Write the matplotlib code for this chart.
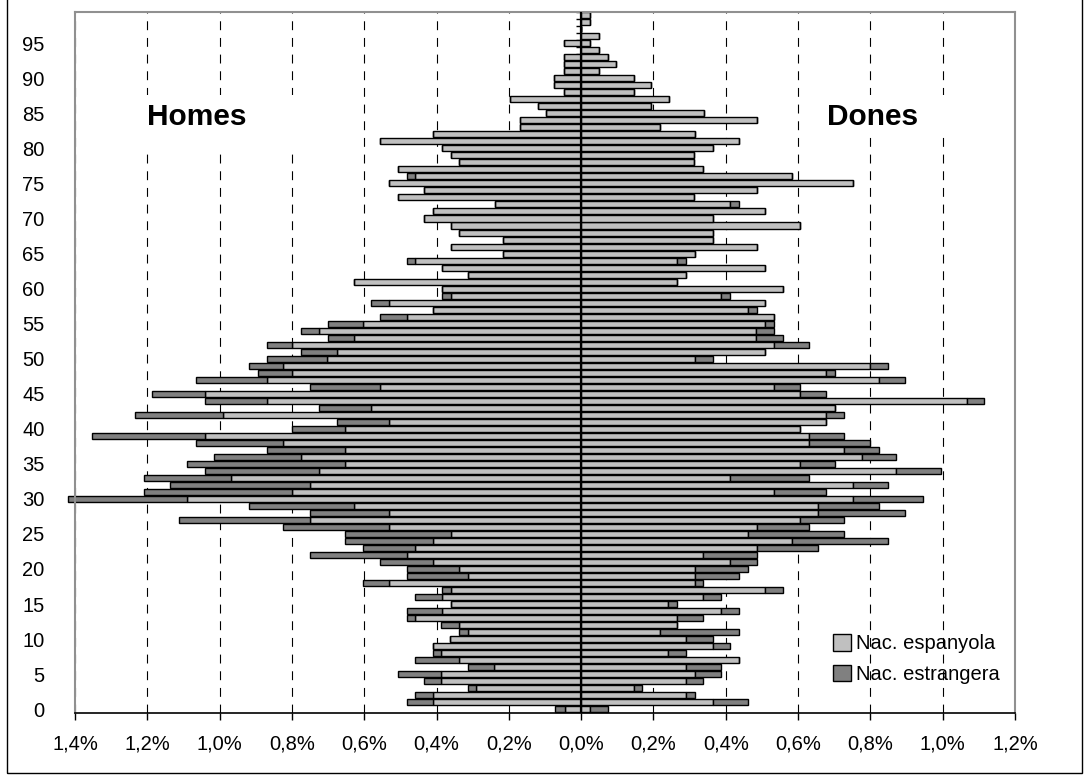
import numpy as np
import matplotlib.pyplot as plt
from matplotlib.patches import Rectangle

# edats 0..99
edats = list(range(100))

# % sobre el total de població (homes)
homes_esp = [0.046, 0.410, 0.410, 0.290, 0.387, 0.387, 0.240, 0.339, 0.387, 0.410,
             0.363, 0.313, 0.339, 0.459, 0.386, 0.361, 0.386, 0.361, 0.532, 0.312,
             0.338, 0.409, 0.482, 0.459, 0.409, 0.361, 0.532, 0.749, 0.532, 0.628,
             1.089, 0.799, 0.749, 0.968, 0.725, 0.652, 0.774, 0.652, 0.824, 1.040,
             0.652, 0.532, 0.992, 0.581, 0.870, 1.040, 0.556, 0.870, 0.799, 0.824,
             0.702, 0.676, 0.799, 0.628, 0.725, 0.604, 0.482, 0.409, 0.532, 0.361,
             0.386, 0.628, 0.312, 0.386, 0.459, 0.216, 0.361, 0.216, 0.338, 0.361,
             0.434, 0.409, 0.239, 0.506, 0.434, 0.532, 0.459, 0.506, 0.338, 0.361,
             0.386, 0.556, 0.409, 0.169, 0.169, 0.097, 0.120, 0.197, 0.048, 0.074,
             0.074, 0.048, 0.048, 0.048, 0.000, 0.048, 0.000, 0.000, 0.000, 0.000]
homes_estr = [0.026, 0.072, 0.049, 0.023, 0.047, 0.119, 0.073, 0.120, 0.023, 0.000,
              0.000, 0.026, 0.048, 0.023, 0.096, 0.000, 0.073, 0.025, 0.072, 0.170,
              0.144, 0.147, 0.267, 0.145, 0.243, 0.291, 0.292, 0.364, 0.217, 0.291,
              0.331, 0.411, 0.389, 0.242, 0.315, 0.437, 0.241, 0.218, 0.241, 0.314,
              0.147, 0.144, 0.243, 0.144, 0.170, 0.146, 0.193, 0.195, 0.095, 0.095,
              0.168, 0.098, 0.071, 0.072, 0.049, 0.096, 0.074, 0.000, 0.049, 0.025,
              0.000, 0.000, 0.000, 0.000, 0.023, 0.000, 0.000, 0.000, 0.000, 0.000,
              0.000, 0.000, 0.000, 0.000, 0.000, 0.000, 0.023, 0.000, 0.000, 0.000,
              0.000, 0.000, 0.000, 0.000, 0.000, 0.000, 0.000, 0.000, 0.000, 0.000,
              0.000, 0.000, 0.000, 0.000, 0.000, 0.000, 0.000, 0.000, 0.000, 0.000]

# dones
dones_esp = [0.025, 0.364, 0.290, 0.145, 0.290, 0.315, 0.290, 0.437, 0.241, 0.364,
             0.290, 0.218, 0.266, 0.266, 0.387, 0.241, 0.338, 0.509, 0.315, 0.315,
             0.315, 0.412, 0.338, 0.486, 0.582, 0.461, 0.486, 0.606, 0.654, 0.654,
             0.751, 0.534, 0.751, 0.412, 0.872, 0.606, 0.776, 0.726, 0.631, 0.631,
             0.606, 0.677, 0.677, 0.702, 1.066, 0.606, 0.534, 0.824, 0.677, 0.800,
             0.315, 0.509, 0.534, 0.484, 0.484, 0.509, 0.534, 0.461, 0.509, 0.387,
             0.558, 0.264, 0.290, 0.509, 0.264, 0.315, 0.486, 0.364, 0.364, 0.606,
             0.364, 0.509, 0.412, 0.313, 0.486, 0.751, 0.582, 0.338, 0.313, 0.313,
             0.364, 0.437, 0.315, 0.218, 0.486, 0.339, 0.194, 0.242, 0.145, 0.194,
             0.145, 0.048, 0.097, 0.073, 0.048, 0.025, 0.048, 0.000, 0.025, 0.025]
dones_estr = [0.048, 0.097, 0.025, 0.024, 0.048, 0.072, 0.097, 0.000, 0.049, 0.048,
              0.074, 0.219, 0.000, 0.072, 0.050, 0.025, 0.049, 0.049, 0.023, 0.122,
              0.146, 0.074, 0.148, 0.168, 0.266, 0.265, 0.145, 0.120, 0.242, 0.170,
              0.194, 0.143, 0.097, 0.219, 0.122, 0.096, 0.096, 0.098, 0.169, 0.095,
              0.000, 0.000, 0.049, 0.000, 0.049, 0.071, 0.072, 0.072, 0.025, 0.048,
              0.049, 0.000, 0.097, 0.074, 0.050, 0.025, 0.000, 0.025, 0.000, 0.025,
              0.000, 0.000, 0.000, 0.000, 0.026, 0.000, 0.000, 0.000, 0.000, 0.000,
              0.000, 0.000, 0.025, 0.000, 0.000, 0.000, 0.000, 0.000, 0.000, 0.000,
              0.000, 0.000, 0.000, 0.000, 0.000, 0.000, 0.000, 0.000, 0.000, 0.000,
              0.000, 0.000, 0.000, 0.000, 0.000, 0.000, 0.000, 0.000, 0.000, 0.000]

plt.rcParams['font.family'] = ['Liberation Sans', 'DejaVu Sans']

fig = plt.figure(figsize=(10.89, 7.81), dpi=100)
ax = fig.add_axes([75 / 1089, 1 - 712.7 / 781, 940 / 1089, 701 / 781])

clar = '#C0C0C0'
fosc = '#808080'
alt = 0.86

h_esp = -np.array(homes_esp)
h_estr = -np.array(homes_estr)

ax.barh(edats, h_esp, height=alt, color=clar, edgecolor='black', linewidth=1,
        label='Nac. espanyola', zorder=2, clip_on=False)
ax.barh(edats, h_estr, left=h_esp, height=alt, color=fosc, edgecolor='black',
        linewidth=1, label='Nac. estrangera', zorder=2, clip_on=False)
ax.barh(edats, dones_esp, height=alt, color=clar, edgecolor='black', linewidth=1,
        zorder=2, clip_on=False)
ax.barh(edats, dones_estr, left=dones_esp, height=alt, color=fosc, edgecolor='black',
        linewidth=1, zorder=2, clip_on=False)

# eix central amb marques entre categories
limits = np.array(edats + [100]) - 0.5
ax.hlines(limits, -0.014, 0, color='black', linewidth=1, zorder=1)
ax.axvline(0, color='black', linewidth=1.6, zorder=3)

ax.set_xlim(-1.4, 1.2)
ax.set_ylim(-0.5, 99.5)

xt = np.round(np.arange(-1.4, 1.21, 0.2), 1)
ax.set_xticks(xt)
ax.set_xticklabels([('%.1f%%' % abs(v)).replace('.', ',') for v in xt], fontsize=14.5)
ax.tick_params(axis='x', direction='out', length=5, width=1, pad=11)

ax.set_yticks(edats[::5])
ax.set_yticklabels([str(e) for e in edats[::5]], fontsize=14.5)
ax.tick_params(axis='y', length=0, pad=22)

ax.grid(axis='x', color='black', linewidth=0.8, linestyle=(0, (8, 7)))
ax.set_axisbelow(True)

for s in ['left', 'right', 'top']:
    ax.spines[s].set_color('#909090')
    ax.spines[s].set_linewidth(1.5)
ax.spines['bottom'].set_color('black')
ax.spines['bottom'].set_linewidth(1.2)

# quadres de text (fons blanc que tapa la graella)
ax.add_patch(Rectangle((0.069, 0.803), 0.192, 0.078, transform=ax.transAxes,
                       facecolor='white', edgecolor='none', zorder=0.8))
ax.add_patch(Rectangle((0.814, 0.824), 0.159, 0.057, transform=ax.transAxes,
                       facecolor='white', edgecolor='none', zorder=0.8))
ax.text(-1.2, 84.5, 'Homes', fontsize=21.5, fontweight='bold', ha='left', va='center')
ax.text(0.68, 84.5, 'Dones', fontsize=21.5, fontweight='bold', ha='left', va='center')

ax.legend(loc='upper left', bbox_to_anchor=(0.806, 0.112), frameon=False, fontsize=14.5,
          handlelength=0.9, handleheight=0.9, handletextpad=0.25, labelspacing=0.55,
          borderpad=0, borderaxespad=0)

# marc exterior
fig.patches.append(Rectangle((7 / 1089, 1 - 773 / 781), (1082 - 7) / 1089, 773 / 781 + 0.05,
                             transform=fig.transFigure, fill=False, edgecolor='black',
                             linewidth=1))

fig.savefig('out.png', dpi=100)
